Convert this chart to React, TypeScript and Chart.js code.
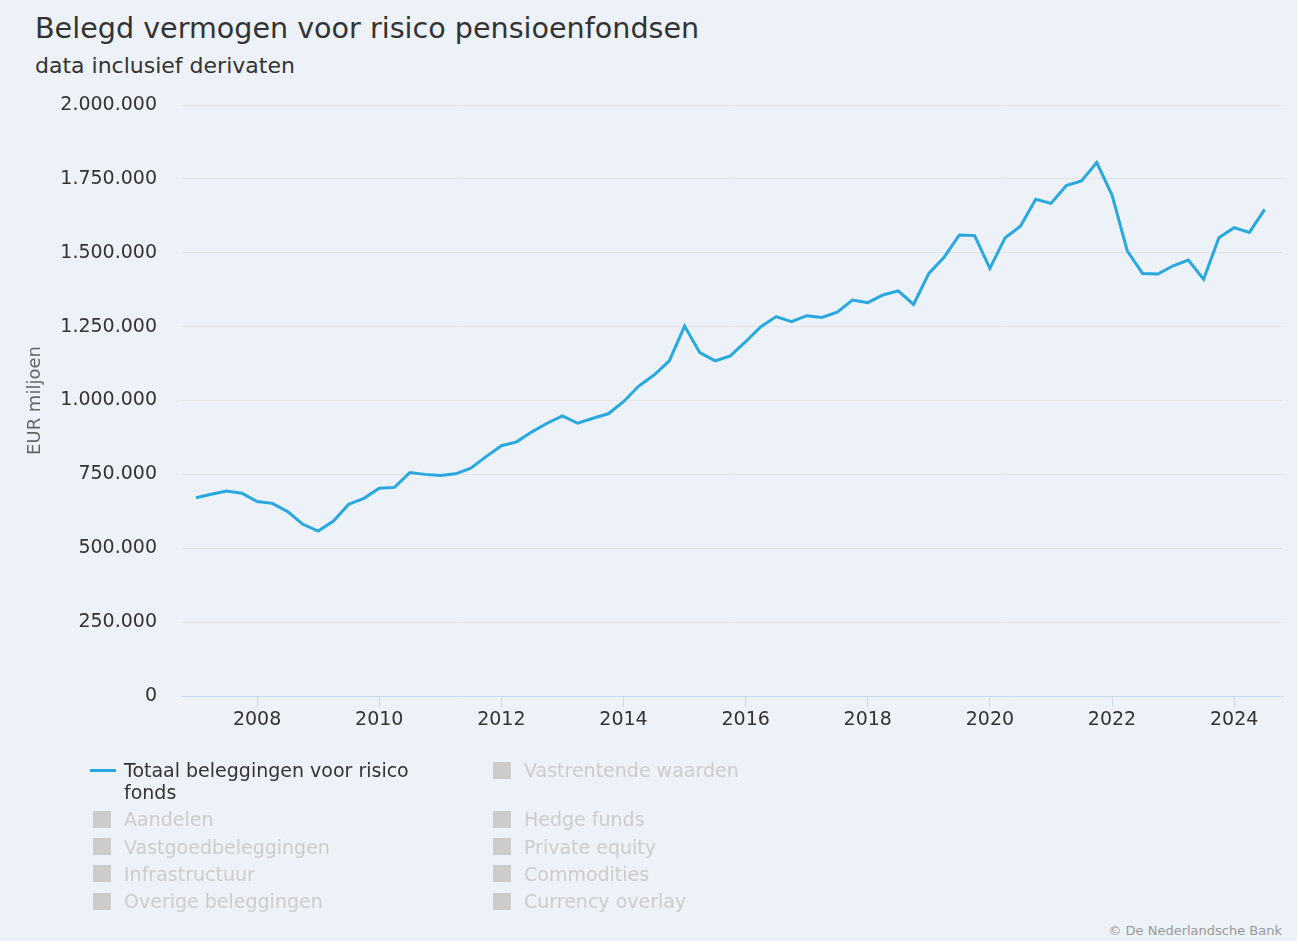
import { useEffect, useRef } from 'react';
import Chart from 'chart.js/auto';

// Totaal beleggingen voor risico fonds, EUR miljoen, per kwartaal (Q4 2006 t/m Q2 2024)
const totaal = [
  671000, 683000, 694000, 686000, 658000, 652000, 624000, 581000, 558000, 592000,
  649000, 669000, 703000, 706000, 756000, 750000, 746000, 752000, 771000, 810000,
  847000, 860000, 894000, 923000, 948000, 923000, 940000, 955000, 996000, 1049000,
  1086000, 1134000, 1252000, 1162000, 1134000, 1151000, 1199000, 1250000, 1284000, 1267000,
  1287000, 1281000, 1299000, 1340000, 1331000, 1357000, 1371000, 1325000, 1430000, 1485000,
  1560000, 1558000, 1447000, 1551000, 1590000, 1681000, 1667000, 1727000, 1743000, 1805000,
  1695000, 1506000, 1430000, 1428000, 1456000, 1475000, 1410000, 1551000, 1585000, 1569000,
  1647000
];

// eerste meetpunt: eind 2006
const firstPoint = 2007;
const quarters = totaal.map((_, i) => firstPoint + i / 4);

const yearTicks = [2008, 2010, 2012, 2014, 2016, 2018, 2020, 2022, 2024];
const yTicks = [0, 250000, 500000, 750000, 1000000, 1250000, 1500000, 1750000, 2000000];

const legendItems = [
  { name: 'Totaal beleggingen voor risico fonds', visible: true },
  { name: 'Vastrentende waarden', visible: false },
  { name: 'Aandelen', visible: false },
  { name: 'Hedge funds', visible: false },
  { name: 'Vastgoedbeleggingen', visible: false },
  { name: 'Private equity', visible: false },
  { name: 'Infrastructuur', visible: false },
  { name: 'Commodities', visible: false },
  { name: 'Overige beleggingen', visible: false },
  { name: 'Currency overlay', visible: false }
];

const lineColor = '#29a8df';
const font = 'DejaVu Sans';

const formatNl = (v: number) => String(v).replace(/\B(?=(\d{3})+(?!\d))/g, '.');

function PensionChart() {
  const canvasRef = useRef<HTMLCanvasElement>(null);
  const chartRef = useRef<Chart | null>(null);

  useEffect(() => {
    if (!canvasRef.current) return;
    const ctx = canvasRef.current.getContext('2d');
    if (!ctx) return;

    if (chartRef.current) chartRef.current.destroy();

    chartRef.current = new Chart(ctx, {
      type: 'line',
      data: {
        datasets: [
          {
            label: legendItems[0].name,
            data: totaal.map((v, i) => ({ x: quarters[i], y: v })),
            borderColor: lineColor,
            borderWidth: 3,
            pointRadius: 0,
            tension: 0,
            fill: false
          }
        ]
      },
      options: {
        animation: false,
        responsive: false,
        maintainAspectRatio: false,
        layout: { padding: { top: 105, right: 16, left: 0, bottom: 10 } },
        plugins: {
          legend: { display: false },
          tooltip: { enabled: false }
        },
        scales: {
          x: {
            type: 'linear',
            min: 2006.77,
            max: 2024.8,
            afterFit: (scale) => {
              scale.height = 54;
            },
            afterBuildTicks: (scale) => {
              scale.ticks = yearTicks.map((v) => ({ value: v }));
            },
            ticks: {
              color: '#333333',
              font: { family: font, size: 19 },
              padding: 2,
              maxRotation: 0,
              autoSkip: false,
              callback: (v) => String(v)
            },
            grid: {
              drawOnChartArea: false,
              drawTicks: true,
              tickLength: 11,
              color: '#ccd6eb'
            },
            border: { display: true, color: '#ccd6eb', width: 1 }
          },
          y: {
            min: 0,
            max: 2000000,
            afterFit: (scale) => {
              scale.width = 182;
            },
            afterBuildTicks: (scale) => {
              scale.ticks = yTicks.map((v) => ({ value: v }));
            },
            ticks: {
              color: '#333333',
              font: { family: font, size: 19 },
              padding: 25,
              callback: (v) => formatNl(Number(v))
            },
            grid: { color: '#e3e3e3', drawTicks: false, lineWidth: 1 },
            border: { display: false },
            title: {
              display: true,
              text: 'EUR miljoen',
              color: '#666666',
              font: { family: font, size: 18 },
              padding: { top: 25, bottom: 0 }
            }
          }
        }
      }
    });

    return () => {
      if (chartRef.current) {
        chartRef.current.destroy();
        chartRef.current = null;
      }
    };
  }, []);

  return (
    <canvas
      ref={canvasRef}
      width={1299}
      height={760}
      style={{ position: 'absolute', left: 0, top: 0, width: 1299, height: 760 }}
    />
  );
}

export default function App() {
  return (
    <div
      style={{
        position: 'absolute',
        left: 0,
        top: 0,
        width: 1299,
        height: 944,
        background: '#ffffff',
        fontFamily: font,
        overflow: 'hidden'
      }}
    >
      <div
        style={{
          position: 'absolute',
          left: 0,
          top: 0,
          width: 1297,
          height: 941,
          background: '#edf1f8'
        }}
      />
      <div
        style={{
          position: 'absolute',
          left: 35,
          top: 14,
          fontSize: 28.6,
          lineHeight: 1,
          color: '#333333',
          whiteSpace: 'nowrap'
        }}
      >
        Belegd vermogen voor risico pensioenfondsen
      </div>
      <div
        style={{
          position: 'absolute',
          left: 35,
          top: 55,
          fontSize: 22,
          lineHeight: 1,
          color: '#333333',
          whiteSpace: 'nowrap'
        }}
      >
        data inclusief derivaten
      </div>

      <PensionChart />

      <div
        style={{
          position: 'absolute',
          left: 90,
          top: 759,
          display: 'grid',
          gridTemplateColumns: '400px 400px',
          rowGap: 5.3,
          fontSize: 19,
          lineHeight: '22px'
        }}
      >
        {legendItems.map((item, i) => (
          <div key={item.name} style={{ display: 'flex', alignItems: 'flex-start' }}>
            <div style={{ width: 34, height: 22, position: 'relative', flexShrink: 0 }}>
              {i === 0 ? (
                <div
                  style={{
                    position: 'absolute',
                    left: 0,
                    top: 10,
                    width: 26,
                    height: 3,
                    background: lineColor
                  }}
                />
              ) : (
                <div
                  style={{
                    position: 'absolute',
                    left: 3,
                    top: 2.5,
                    width: 18,
                    height: 17,
                    background: '#cccccc'
                  }}
                />
              )}
            </div>
            <div
              style={{
                maxWidth: 320,
                color: item.visible ? '#333333' : '#cccccc'
              }}
            >
              {item.name}
            </div>
          </div>
        ))}
      </div>

      <div
        style={{
          position: 'absolute',
          right: 17,
          top: 924,
          fontSize: 13,
          lineHeight: 1,
          color: '#999999',
          whiteSpace: 'nowrap'
        }}
      >
        © De Nederlandsche Bank
      </div>
    </div>
  );
}
